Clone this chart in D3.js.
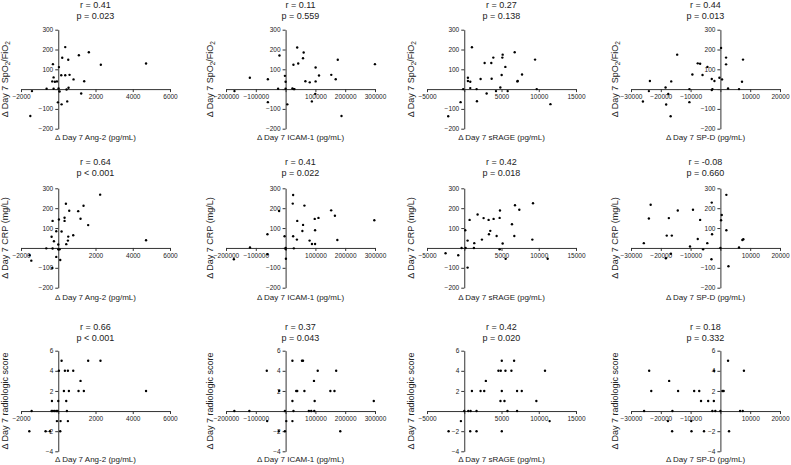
<!DOCTYPE html>
<html><head><meta charset="utf-8">
<script src="https://cdn.jsdelivr.net/npm/d3@7"></script>
<style>
body{margin:0;background:#fff;}
svg{display:block;font-family:"Liberation Sans",Arial,sans-serif;}
</style></head>
<body><svg id="c" width="791" height="465"></svg>
<script>
// ---- data ----
const markers = ["Ang-2", "ICAM-1", "sRAGE", "SP-D"];
const outcomes = ["SpO2/FiO2", "CRP (mg/L)", "radiologic score"];
const rLabels = [["0.41","0.11","0.27","0.44"],["0.64","0.41","0.42","-0.08"],["0.66","0.37","0.42","0.18"]];
const pLabels = [["= 0.023","= 0.559","= 0.138","= 0.013"],["< 0.001","= 0.022","= 0.018","= 0.660"],["< 0.001","= 0.043","= 0.020","= 0.332"]];
const xDomains = [[-2000, 6000], [-200000, 300000], [-5000, 15000], [-30000, 20000]];
const xTickSteps = [2000, 100000, 5000, 10000];
const yDomains = [[-200, 300], [-200, 300], [-4, 6]];
const yTickSteps = [100, 100, 2];

const ang2_spo2 = [[375,212],[214,158],[536,148],[1107,171],[1643,186],[2286,123],[4714,129],[-286,126],[36,111],[161,70],[375,70],[607,72],[821,49],[1393,40],[-250,59],[-321,39],[-179,37],[-71,39],[-625,2],[-250,2],[18,3],[71,-12],[446,-2],[554,7],[-1411,-10],[1232,-22],[-18,-67],[179,-77],[482,-62],[-1500,-136]];
const icam_spo2 = [[-171600,-10],[-120000,57],[-59500,50],[-59500,-66],[-20600,170],[-25200,2],[-2300,67],[0,37],[0,2],[5700,-77],[26300,123],[38900,210],[42300,129],[22900,3],[27500,0],[29700,0],[58400,156],[60600,185],[66400,40],[81200,34],[88100,-62],[100700,109],[100700,39],[99500,-24],[112100,69],[153300,72],[168200,50],[175100,148],[187600,-136],[299800,126]];
const srage_spo2 = [[-2152,-137],[-493,-66],[-135,0],[493,57],[493,41],[807,37],[807,5],[1031,211],[1659,0],[1704,-61],[2197,51],[2735,132],[3004,-22],[3632,132],[3677,52],[3901,159],[4260,-10],[4843,8],[5112,159],[5157,174],[5022,71],[5515,112],[5829,-10],[6771,186],[7174,41],[7129,39],[7757,74],[9506,149],[9730,0],[11569,-76]];
const spd_spo2 = [[-26000,-63],[-24000,-10],[-23660,41],[-18400,8],[-18200,-78],[-17500,-25],[-16500,39],[-16700,-137],[-14500,174],[-10400,0],[-10400,-66],[-9400,74],[-7600,130],[-6800,128],[-6000,71],[-4350,112],[-2900,-5],[-2680,0],[-2900,51],[-2000,41],[-335,57],[223,208],[558,49],[1900,159],[1900,125],[2570,3],[6250,0],[7250,37],[7590,149]];

const ang2_crp = [[2250,268],[411,222],[1357,212],[1071,185],[589,187],[1196,147],[339,152],[339,136],[36,143],[-304,136],[1607,115],[179,83],[804,64],[536,57],[518,37],[429,19],[0,17],[-357,56],[-232,34],[-107,84],[-643,-2],[-304,-3],[0,-7],[71,-7],[-107,-45],[107,-61],[-321,-101],[-1446,-64],[-1536,-37],[4714,39]];
const icam_crp = [[25300,266],[24100,223],[-21800,186],[63200,213],[39100,136],[58600,116],[56300,85],[37900,42],[25300,59],[-3400,59],[-60900,69],[-119500,2],[-173600,-57],[0,0],[0,-5],[27600,-2],[1100,-54],[80500,37],[88500,20],[98900,20],[97700,146],[110300,151],[98900,89],[152900,189],[165500,162],[173600,40],[297700,139],[-60900,-32]];
const srage_crp = [[-2509,-27],[-806,-37],[-358,0],[134,89],[179,0],[448,37],[448,-99],[717,141],[1299,0],[1344,24],[1792,168],[2374,42],[2598,150],[3270,141],[3315,69],[3494,86],[3942,146],[4346,60],[4749,151],[4794,188],[4749,-7],[5152,22],[5555,-55],[6406,119],[6810,215],[6720,60],[7392,192],[9229,225],[9139,42],[11200,-54]];
const spd_crp = [[-23400,217],[-24000,148],[-25700,24],[-17300,150],[-18000,62],[-16300,62],[-18300,-52],[-16600,-29],[-14300,188],[-10200,7],[-9200,192],[-6800,141],[-7600,45],[-5800,-7],[-4400,24],[-2900,228],[-2800,69],[-3000,-57],[0,0],[450,166],[220,139],[2000,267],[2000,89],[2700,-92],[6250,2],[7370,40],[7700,44]];

const ang2_rad = [[179,5],[1607,5],[2268,5],[36,4],[357,4],[518,4],[804,4],[1196,3],[304,2],[571,2],[1089,2],[1375,2],[4714,2],[-339,1],[0,1],[429,1],[-1429,0],[-357,0],[-286,0],[-196,0],[-107,0],[-36,0],[464,0],[-71,-1],[125,-1],[518,-1],[-1554,-2],[-679,-2],[-446,-2],[107,-2]];
const icam_rad = [[22900,5],[55000,5],[58400,5],[-63100,4],[107800,4],[169700,4],[95200,3],[-21800,2],[35600,2],[39000,2],[63100,2],[150200,2],[164000,2],[22900,1],[97500,1],[295900,1],[-172000,0],[-121600,0],[-2300,0],[26400,0],[78000,0],[86000,0],[96300,0],[-61900,-1],[2300,-1],[22900,-1],[-23000,-2],[-2300,-2],[183500,-2]];
const srage_rad = [[5040,5],[6690,5],[4590,4],[4900,4],[5530,4],[6330,4],[10840,4],[2900,3],[1030,2],[2190,2],[2680,2],[5040,2],[7090,2],[7720,2],[4860,1],[5400,1],[9680,1],[0,0],[540,0],[850,0],[1650,0],[5800,0],[7090,0],[11460,-1],[-450,-1],[-2100,-2],[800,-2],[1650,-2],[5040,-2]];
const spd_rad = [[2570,5],[-23900,4],[-2100,4],[7900,4],[-17200,3],[-23200,2],[-14200,2],[-8800,2],[-7100,2],[670,2],[1100,2],[-6500,1],[-4100,1],[-2200,1],[-25600,0],[-16100,0],[-2700,0],[-1700,0],[0,0],[6600,0],[7500,0],[-17600,-1],[-9800,-1],[-16200,-2],[-9700,-2],[-5500,-2],[2900,-2]];

const panelData = [
  [ang2_spo2, icam_spo2, srage_spo2, spd_spo2],
  [ang2_crp, icam_crp, srage_crp, spd_crp],
  [ang2_rad, icam_rad, srage_rad, spd_rad]
];

// ---- layout ----
const colLeft = [21, 226, 427, 631];
const plotW = 149;
const rowTop = [29.7, 188.3, 350.7];
const rowH = [99, 99.4, 100.6];
const titleY = [[4.7, 15.7], [162.3, 173.3], [327, 338]];
const xLabelY = [137, 296.7, 459];

const svg = d3.select("#c");
const ink = "#222";

function ticksFor(dom, step) {
  const out = [];
  for (let v = dom[0]; v <= dom[1] + 1e-9; v += step) out.push(v);
  return out;
}

function yLabel(g, row) {
  const t = g.append("text");
  if (row === 0) {
    t.append("tspan").text("\u0394 Day 7 SpO");
    t.append("tspan").text("2").attr("font-size", 6.5).attr("dy", 2.2);
    t.append("tspan").text("/FiO").attr("dy", -2.2);
    t.append("tspan").text("2").attr("font-size", 6.5).attr("dy", 2.2);
  } else {
    t.text("\u0394 Day 7 " + outcomes[row]);
  }
  return t;
}

for (let r = 0; r < 3; r++) {
  for (let c = 0; c < 4; c++) {
    const x = d3.scaleLinear().domain(xDomains[c]).range([colLeft[c], colLeft[c] + plotW]);
    const y = d3.scaleLinear().domain(yDomains[r]).range([rowTop[r] + rowH[r], rowTop[r]]);
    const g = svg.append("g");

    const xt = ticksFor(xDomains[c], xTickSteps[c]);
    const yt = ticksFor(yDomains[r], yTickSteps[r]);

    const xAxis = g.append("g").attr("transform", `translate(0,${y(0)})`)
      .call(d3.axisBottom(x).tickValues(xt).tickSize(3).tickPadding(2).tickSizeOuter(0)
        .tickFormat(v => v === 0 ? "" : d3.format("d")(v)));
    const yAxis = g.append("g").attr("transform", `translate(${x(0)},0)`)
      .call(d3.axisLeft(y).tickValues(yt).tickSize(3).tickPadding(2).tickSizeOuter(0)
        .tickFormat(v => v === 0 ? "" : d3.format("d")(v)));
    [xAxis, yAxis].forEach(a => {
      a.select(".domain").attr("stroke", "#333").attr("stroke-width", 1);
      a.selectAll(".tick line").attr("stroke", "#333");
      a.selectAll("text").attr("font-size", 6.5).attr("fill", ink)
        .attr("font-family", "Liberation Sans, Arial, sans-serif");
    });

    g.selectAll("circle.pt").data(panelData[r][c]).join("circle")
      .attr("class", "pt")
      .attr("cx", d => x(d[0])).attr("cy", d => y(d[1]))
      .attr("r", 1.2).attr("fill", "#000");

    const cx = colLeft[c] + plotW / 2;
    g.append("text").attr("x", cx).attr("y", titleY[r][0]).attr("dy", "0.35em")
      .attr("text-anchor", "middle").attr("font-size", 9).attr("fill", ink)
      .text("r = " + rLabels[r][c]);
    g.append("text").attr("x", cx).attr("y", titleY[r][1]).attr("dy", "0.35em")
      .attr("text-anchor", "middle").attr("font-size", 9).attr("fill", ink)
      .text("p " + pLabels[r][c]);

    g.append("text").attr("x", cx).attr("y", xLabelY[r]).attr("dy", "0.35em")
      .attr("text-anchor", "middle").attr("font-size", 8).attr("fill", ink)
      .text("\u0394 Day 7 " + markers[c] + " (pg/mL)");

    const ly = rowTop[r] + rowH[r] / 2;
    const lx = colLeft[c] - 16;
    yLabel(g, r).attr("transform", `translate(${lx},${ly}) rotate(-90)`)
      .attr("text-anchor", "middle").attr("dy", "0.35em")
      .attr("font-size", 9).attr("fill", ink);
  }
}
</script></body></html>
